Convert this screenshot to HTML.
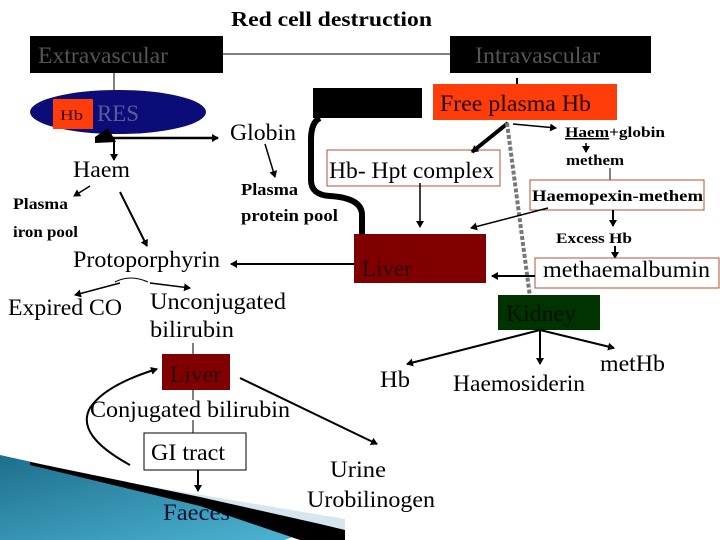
<!DOCTYPE html>
<html><head><meta charset="utf-8"><style>
html,body{margin:0;padding:0;background:#fff;}
svg{display:block;}
text{font-family:"Liberation Serif",serif;}
</style></head><body>
<svg width="720" height="540" viewBox="0 0 720 540" xmlns="http://www.w3.org/2000/svg">
<defs>
<marker id="a" markerWidth="8" markerHeight="8" refX="6" refY="4" orient="auto" markerUnits="userSpaceOnUse"><path d="M0,0 L7,4 L0,8 z" fill="#000"/></marker>
<linearGradient id="bg" x1="0" y1="0" x2="1" y2="1"><stop offset="0" stop-color="#1d6f8c"/><stop offset="1" stop-color="#4fb6d6"/></linearGradient>
</defs>
<!-- bottom decoration (under) -->
<polygon points="100,478 345,519 345,540 300,540" fill="#d5e6ee"/>
<polygon points="0,455 320,526 285,540 0,540" fill="url(#bg)"/>
<text x="231" y="26" font-size="21" font-weight="bold" textLength="201" lengthAdjust="spacingAndGlyphs">Red cell destruction</text>
<rect x="30" y="36" width="193" height="37" fill="#000"/>
<text x="38" y="63" font-size="23" fill="#555" textLength="130" lengthAdjust="spacingAndGlyphs">Extravascular</text>
<line x1="223" y1="54" x2="450" y2="54" stroke="#000"/>
<rect x="450" y="36" width="201" height="37" fill="#000"/>
<text x="475" y="63" font-size="23" fill="#555" textLength="125" lengthAdjust="spacingAndGlyphs">Intravascular</text>
<line x1="114" y1="73" x2="114" y2="92" stroke="#000"/>
<line x1="517" y1="78" x2="517" y2="95" stroke="#000" stroke-width="2" marker-end="url(#a)"/>
<rect x="313" y="88" width="109" height="30" fill="#000"/>
<rect x="433" y="84" width="184" height="36" fill="#ff3d0a"/>
<text x="440" y="111" font-size="23" fill="#220000" textLength="151" lengthAdjust="spacingAndGlyphs">Free plasma Hb</text>
<ellipse cx="118" cy="112" rx="88" ry="22" fill="#0c0c78"/>
<rect x="53" y="99" width="40" height="30" fill="#ff3d0a"/>
<text x="60" y="120" font-size="15" fill="#300" textLength="23" lengthAdjust="spacingAndGlyphs">Hb</text>
<text x="97" y="121" font-size="23" fill="#5a5a9a" textLength="42" lengthAdjust="spacingAndGlyphs">RES</text>
<path d="M95,137 L108,128 L116,142 L95,143 z" fill="#000"/>
<line x1="95" y1="138" x2="218" y2="138" stroke="#000" stroke-width="2.5" marker-end="url(#a)"/>
<line x1="114" y1="138" x2="114" y2="160" stroke="#000" stroke-width="2" marker-end="url(#a)"/>
<text x="230" y="140" font-size="23" textLength="66" lengthAdjust="spacingAndGlyphs">Globin</text>
<text x="73" y="177" font-size="23" textLength="57" lengthAdjust="spacingAndGlyphs">Haem</text>
<text x="13" y="209" font-size="16" font-weight="bold" textLength="55" lengthAdjust="spacingAndGlyphs">Plasma</text>
<text x="13" y="237" font-size="16" font-weight="bold" textLength="65" lengthAdjust="spacingAndGlyphs">iron pool</text>
<line x1="90" y1="186" x2="74" y2="196" stroke="#000" stroke-width="1.5" marker-end="url(#a)"/>
<line x1="120" y1="192" x2="147" y2="246" stroke="#000" stroke-width="2" marker-end="url(#a)"/>
<text x="241" y="195" font-size="17" font-weight="bold" textLength="57" lengthAdjust="spacingAndGlyphs">Plasma</text>
<text x="241" y="221" font-size="17" font-weight="bold" textLength="97" lengthAdjust="spacingAndGlyphs">protein pool</text>
<line x1="265" y1="144" x2="275" y2="177" stroke="#000" stroke-width="1.5" marker-end="url(#a)"/>
<text x="73" y="267" font-size="23" textLength="147" lengthAdjust="spacingAndGlyphs">Protoporphyrin</text>
<line x1="354" y1="264" x2="231" y2="264" stroke="#000" stroke-width="2" marker-end="url(#a)"/>
<path d="M320,118 Q311,122 311,140 L311,180 Q311,195 330,196 Q362,198 362,215 L362,234" fill="none" stroke="#000" stroke-width="6"/>
<rect x="327" y="150" width="173" height="36" fill="#fff" stroke="#b05030"/>
<text x="329" y="178" font-size="23" textLength="165" lengthAdjust="spacingAndGlyphs">Hb- Hpt complex</text>
<line x1="508" y1="123" x2="472" y2="152" stroke="#000" stroke-width="4" marker-end="url(#a)"/>
<line x1="507" y1="123" x2="530" y2="297" stroke="#777" stroke-width="4" stroke-dasharray="4,2"/>
<line x1="513" y1="124" x2="556" y2="128" stroke="#000" stroke-width="1.5" marker-end="url(#a)"/>
<text x="565" y="137" font-size="15" font-weight="bold" textLength="100" lengthAdjust="spacingAndGlyphs"><tspan text-decoration="underline">Haem</tspan>+globin</text>
<line x1="586" y1="143" x2="586" y2="152" stroke="#000" stroke-width="1.5" marker-end="url(#a)"/>
<text x="566" y="165" font-size="15" font-weight="bold" textLength="58" lengthAdjust="spacingAndGlyphs">methem</text>
<line x1="610" y1="168" x2="610" y2="180" stroke="#000"/>
<rect x="530" y="180" width="174" height="30" fill="#fff" stroke="#b05030"/>
<text x="532" y="201" font-size="16" font-weight="bold" textLength="171" lengthAdjust="spacingAndGlyphs">Haemopexin-methem</text>
<line x1="613" y1="210" x2="613" y2="226" stroke="#000" stroke-width="2" marker-end="url(#a)"/>
<text x="556" y="243" font-size="15" font-weight="bold" textLength="76" lengthAdjust="spacingAndGlyphs">Excess Hb</text>
<line x1="615" y1="246" x2="615" y2="258" stroke="#000" stroke-width="2" marker-end="url(#a)"/>
<rect x="535" y="258" width="184" height="30" fill="#fff" stroke="#b05030"/>
<text x="543" y="277" font-size="23" textLength="167" lengthAdjust="spacingAndGlyphs">methaemalbumin</text>
<line x1="535" y1="276" x2="492" y2="276" stroke="#000" stroke-width="2" marker-end="url(#a)"/>
<line x1="548" y1="208" x2="471" y2="228" stroke="#000" stroke-width="1.5" marker-end="url(#a)"/>
<line x1="420" y1="183" x2="420" y2="227" stroke="#000" stroke-width="1.5" marker-end="url(#a)"/>
<rect x="354" y="234" width="132" height="49" fill="#800000"/>
<text x="362" y="276" font-size="23" fill="#2a0000" textLength="50" lengthAdjust="spacingAndGlyphs">Liver</text>
<rect x="498" y="295" width="102" height="35" fill="#003300"/>
<text x="506" y="321" font-size="23" fill="#001000" textLength="70" lengthAdjust="spacingAndGlyphs">Kidney</text>
<line x1="540" y1="330" x2="407" y2="364" stroke="#000" stroke-width="2" marker-end="url(#a)"/>
<line x1="540" y1="330" x2="540" y2="364" stroke="#000" stroke-width="2" marker-end="url(#a)"/>
<line x1="540" y1="330" x2="614" y2="348" stroke="#000" stroke-width="2" marker-end="url(#a)"/>
<text x="380" y="387" font-size="23" textLength="30" lengthAdjust="spacingAndGlyphs">Hb</text>
<text x="453" y="391" font-size="23" textLength="132" lengthAdjust="spacingAndGlyphs">Haemosiderin</text>
<text x="600" y="371" font-size="23" textLength="65" lengthAdjust="spacingAndGlyphs">metHb</text>
<path d="M115,282 Q130,274 148,282" fill="none" stroke="#000"/>
<line x1="120" y1="283" x2="75" y2="295" stroke="#000" stroke-width="1.5" marker-end="url(#a)"/>
<line x1="150" y1="283" x2="190" y2="288" stroke="#000" stroke-width="1.5" marker-end="url(#a)"/>
<text x="8" y="315" font-size="23" textLength="114" lengthAdjust="spacingAndGlyphs">Expired CO</text>
<text x="150" y="309" font-size="23" textLength="136" lengthAdjust="spacingAndGlyphs">Unconjugated</text>
<text x="150" y="337" font-size="23" textLength="84" lengthAdjust="spacingAndGlyphs">bilirubin</text>
<line x1="193" y1="343" x2="193" y2="354" stroke="#000"/>
<rect x="162" y="354" width="68" height="36" fill="#800000"/>
<text x="170" y="382" font-size="23" fill="#2a0000" textLength="51" lengthAdjust="spacingAndGlyphs">Liver</text>
<line x1="193" y1="390" x2="193" y2="400" stroke="#000"/>
<text x="90" y="417" font-size="23" textLength="200" lengthAdjust="spacingAndGlyphs">Conjugated bilirubin</text>
<line x1="193" y1="420" x2="193" y2="433" stroke="#000"/>
<rect x="144" y="433" width="102" height="37" fill="#fff" stroke="#000"/>
<text x="151" y="460" font-size="23" textLength="74" lengthAdjust="spacingAndGlyphs">GI tract</text>
<line x1="198" y1="470" x2="198" y2="491" stroke="#000" stroke-width="2" marker-end="url(#a)"/>
<text x="163" y="520" font-size="23" fill="#0a1030" textLength="67" lengthAdjust="spacingAndGlyphs">Faeces</text>
<path d="M130,465 Q75,435 90,408 Q105,385 157,369" fill="none" stroke="#000" stroke-width="2" marker-end="url(#a)"/>
<line x1="240" y1="378" x2="377" y2="444" stroke="#000" stroke-width="2" marker-end="url(#a)"/>
<text x="330" y="477" font-size="23" textLength="56" lengthAdjust="spacingAndGlyphs">Urine</text>
<text x="307" y="507" font-size="23" textLength="128" lengthAdjust="spacingAndGlyphs">Urobilinogen</text>
<!-- black band over -->
<polygon points="30,462 200,497 320,524 345,530 345,540 300,540 200,506 30,465" fill="#000"/>
</svg>
</body></html>
